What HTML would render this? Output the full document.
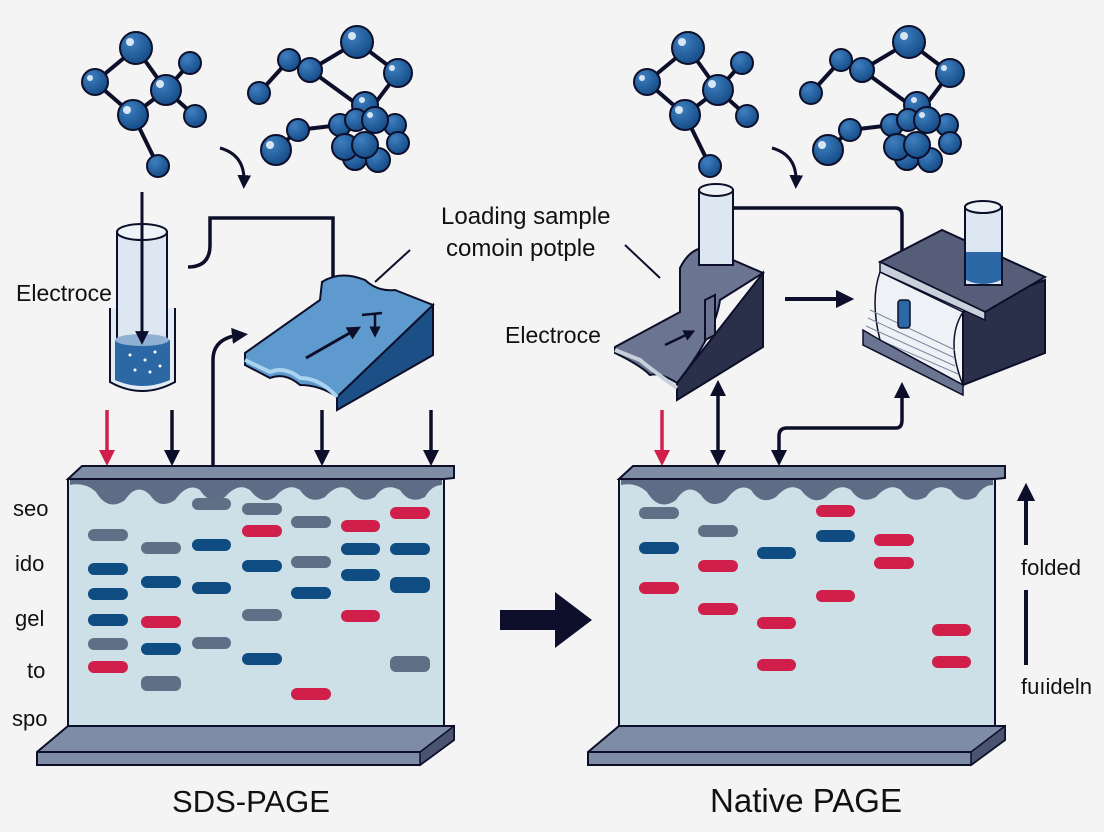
<!DOCTYPE html>
<html><head><meta charset="utf-8"><style>
html,body{margin:0;padding:0;background:#f4f4f5;}
svg{display:block}
text{font-family:"Liberation Sans",sans-serif;fill:#111;}
</style></head><body>
<svg width="1104" height="832" viewBox="0 0 1104 832" xmlns="http://www.w3.org/2000/svg">
<defs>
<radialGradient id="ball" cx="0.35" cy="0.3" r="0.75">
<stop offset="0" stop-color="#3f7fc0"/><stop offset="1" stop-color="#134a85"/></radialGradient>
<marker id="ah" viewBox="0 0 10 10" refX="5" refY="5" markerWidth="4.6" markerHeight="4.6" orient="auto-start-reverse">
<path d="M0,0 L10,5 L0,10 z" fill="#0d0f2a"/></marker>
<marker id="ahr" viewBox="0 0 10 10" refX="5" refY="5" markerWidth="4.6" markerHeight="4.6" orient="auto">
<path d="M0,0 L10,5 L0,10 z" fill="#d01f4a"/></marker>
<g id="mol">
<g stroke="#0d0f2a" stroke-width="4" fill="none">
<path d="M136,48 L95,82 L133,115 L166,90 L136,48 M166,90 L190,63 M166,90 L195,116 M133,115 L158,166"/>
<path d="M259,93 L289,60 L310,70 L357,42 L398,73 L370,110 M310,70 L365,110 M276,150 L298,130 L340,125"/>
</g>
<g fill="url(#ball)" stroke="#0d0f2a" stroke-width="2">
<circle cx="136" cy="48" r="16"/><circle cx="95" cy="82" r="13"/><circle cx="166" cy="90" r="15"/>
<circle cx="133" cy="115" r="15"/><circle cx="190" cy="63" r="11"/><circle cx="195" cy="116" r="11"/><circle cx="158" cy="166" r="11"/>
<circle cx="357" cy="42" r="16"/><circle cx="398" cy="73" r="14"/><circle cx="289" cy="60" r="11"/><circle cx="310" cy="70" r="12"/>
<circle cx="259" cy="93" r="11"/><circle cx="298" cy="130" r="11"/><circle cx="276" cy="150" r="15"/>
<circle cx="365" cy="105" r="13"/><circle cx="355" cy="158" r="12"/><circle cx="378" cy="160" r="12"/>
<circle cx="340" cy="125" r="11"/><circle cx="395" cy="125" r="11"/><circle cx="398" cy="143" r="11"/>
<circle cx="345" cy="147" r="13"/><circle cx="365" cy="145" r="13"/><circle cx="356" cy="120" r="11"/><circle cx="375" cy="120" r="13"/>
</g>
<g fill="#d7e6f5"><circle cx="130" cy="42" r="4"/><circle cx="90" cy="78" r="3"/><circle cx="160" cy="84" r="4"/><circle cx="127" cy="110" r="4"/><circle cx="352" cy="36" r="4"/><circle cx="392" cy="68" r="3"/><circle cx="270" cy="145" r="4"/><circle cx="370" cy="115" r="3"/><circle cx="362" cy="100" r="3"/></g>
</g>
</defs>

<use href="#mol"/>
<use href="#mol" x="552"/>

<path d="M220,148 Q245,155 244,182" stroke="#0d0f2a" stroke-width="3" fill="none" marker-end="url(#ah)"/>
<path d="M772,148 Q797,155 796,182" stroke="#0d0f2a" stroke-width="3" fill="none" marker-end="url(#ah)"/>

<path d="M110,308 L110,382 Q142,400 175,382 L175,308" fill="#e4ecf3" stroke="#0d0f2a" stroke-width="2"/>
<rect x="117" y="232" width="50" height="130" fill="#dce7f1" stroke="#0d0f2a" stroke-width="2"/>
<ellipse cx="142" cy="232" rx="25" ry="8" fill="#eef3f8" stroke="#0d0f2a" stroke-width="2"/>
<path d="M115,340 L115,380 Q142,392 170,380 L170,340 Z" fill="#2d68a6"/>
<ellipse cx="142" cy="340" rx="27" ry="6" fill="#8fb0d3"/>
<g fill="#fff"><circle cx="130" cy="355" r="1.5"/><circle cx="145" cy="360" r="1.5"/><circle cx="155" cy="352" r="1.5"/><circle cx="135" cy="370" r="1.5"/><circle cx="150" cy="372" r="1.5"/><circle cx="160" cy="366" r="1.5"/></g>
<line x1="142" y1="192" x2="142" y2="338" stroke="#0d0f2a" stroke-width="3" marker-end="url(#ah)"/>
<text x="16" y="301" font-size="23">Electroce</text>

<path d="M188,267 Q210,267 210,245 L210,218 L333,218 L333,313" stroke="#0d0f2a" stroke-width="3.5" fill="none"/>
<path d="M213,465 L213,360 Q213,338 240,335" stroke="#0d0f2a" stroke-width="3.5" fill="none" marker-end="url(#ah)"/>

<path d="M433,305 L433,355 L337,410 L337,397 Z" fill="#1b4f86" stroke="#0d0f2a" stroke-width="2"/>
<path d="M245,353 L320,300 L322,282 Q340,270 365,280 Q378,292 395,290 L433,305 L337,397 Q320,385 300,385 Q285,372 270,378 L245,365 Z" fill="#5f9ace" stroke="#0d0f2a" stroke-width="2"/>
<path d="M245,360 L270,372 Q285,366 300,378 Q320,378 337,397" fill="none" stroke="#a9d3ef" stroke-width="4"/>
<line x1="306" y1="358" x2="355" y2="330" stroke="#0d0f2a" stroke-width="3" marker-end="url(#ah)"/>
<path d="M362,315 L382,313 M375,314 L375,332" stroke="#0d0f2a" stroke-width="2.5" fill="none" marker-end="url(#ah)"/>
<line x1="375" y1="282" x2="410" y2="250" stroke="#0d0f2a" stroke-width="2"/>
<text x="441" y="224" font-size="24">Loading sample</text>
<text x="446" y="256" font-size="24">comoin potple</text>

<path d="M763,273 L763,347 L677,400 L677,383 Z" fill="#2a2f4a" stroke="#0d0f2a" stroke-width="2"/>
<path d="M615,347 L680,312 L680,268 Q690,248 705,248 L763,273 L720,300 Q715,335 677,383 Q660,372 650,375 Q640,365 615,353 Z" fill="#6b7591" stroke="#0d0f2a" stroke-width="2"/>
<path d="M615,350 L640,360 Q652,370 677,388" fill="none" stroke="#c8d0dc" stroke-width="4"/>
<rect x="699" y="190" width="34" height="75" fill="#dce7f1" stroke="#0d0f2a" stroke-width="2"/>
<ellipse cx="716" cy="190" rx="17" ry="6" fill="#eef3f8" stroke="#0d0f2a" stroke-width="2"/>
<path d="M705,300 L715,295 L715,335 L705,340 Z" fill="#6b7591" stroke="#0d0f2a" stroke-width="2"/>
<line x1="665" y1="345" x2="690" y2="333" stroke="#0d0f2a" stroke-width="2.5" marker-end="url(#ah)"/>
<text x="505" y="343" font-size="23">Electroce</text>
<line x1="625" y1="245" x2="660" y2="278" stroke="#0d0f2a" stroke-width="2"/>
<path d="M733,208 L895,208 Q902,208 902,215 L902,260" stroke="#0d0f2a" stroke-width="3.5" fill="none"/>
<line x1="785" y1="299" x2="845" y2="299" stroke="#0d0f2a" stroke-width="4" marker-end="url(#ah)"/>

<path d="M1045,280 L1045,353 L963,385 L963,312 Z" fill="#2a2f4a" stroke="#0d0f2a" stroke-width="2"/>
<path d="M880,262 L942,230 L1045,277 L985,312 Z" fill="#555d78" stroke="#0d0f2a" stroke-width="2"/>
<path d="M880,262 L985,312 L985,320 L880,272 Z" fill="#c8d0dc" stroke="#0d0f2a" stroke-width="1.5"/>
<path d="M880,272 L963,312 Q945,340 963,385 L880,340 Q870,300 880,272 Z" fill="#eef2f6" stroke="#0d0f2a" stroke-width="1.5"/>
<g stroke="#7c879e" stroke-width="1"><line x1="870" y1="310" x2="955" y2="350"/><line x1="868" y1="318" x2="955" y2="358"/><line x1="866" y1="326" x2="955" y2="366"/><line x1="866" y1="334" x2="958" y2="374"/></g>
<path d="M863,330 L880,340 L963,385 L963,395 L863,345 Z" fill="#6b7591" stroke="#0d0f2a" stroke-width="1.5"/>
<rect x="898" y="300" width="12" height="28" rx="3" fill="#2d68a6" stroke="#0d0f2a" stroke-width="1.5"/>
<rect x="965" y="207" width="37" height="78" fill="#dce7f1" stroke="#0d0f2a" stroke-width="2"/>
<ellipse cx="983" cy="207" rx="18" ry="6" fill="#eef3f8" stroke="#0d0f2a" stroke-width="2"/>
<path d="M966,252 L966,280 Q983,288 1001,280 L1001,252 Z" fill="#2d68a6"/>

<g stroke="#0d0f2a" stroke-width="3.5" fill="none">
<line x1="172" y1="410" x2="172" y2="458" marker-end="url(#ah)"/>
<line x1="322" y1="410" x2="322" y2="458" marker-end="url(#ah)"/>
<line x1="431" y1="410" x2="431" y2="458" marker-end="url(#ah)"/>
<line x1="718" y1="388" x2="718" y2="458" marker-start="url(#ah)" marker-end="url(#ah)"/>
<path d="M779,458 L779,436 Q779,428 787,428 L896,428 Q902,428 902,420 L902,390" marker-start="url(#ah)" marker-end="url(#ah)"/>
</g>
<line x1="107" y1="410" x2="107" y2="458" stroke="#d01f4a" stroke-width="3.5" marker-end="url(#ahr)"/>
<line x1="662" y1="410" x2="662" y2="458" stroke="#d01f4a" stroke-width="3.5" marker-end="url(#ahr)"/>

<g id="gelL">
<path d="M37,752 L68,726 L454,726 L454,740 L420,765 L37,765 Z" fill="#7f8ca5" stroke="#0d0f2a" stroke-width="2"/>
<path d="M420,752 L454,726 L454,740 L420,765 Z" fill="#4a5370" stroke="#0d0f2a" stroke-width="1.5"/>
<line x1="37" y1="752" x2="420" y2="752" stroke="#0d0f2a" stroke-width="2"/>
<rect x="68" y="479" width="376" height="247" fill="#cde0e8" stroke="#0d0f2a" stroke-width="2"/>
<path d="M70,480 L442,480 L442,485 Q432,485 425,497 Q410,505 400,490 Q385,482 375,497 Q360,505 350,490 Q338,482 325,497 Q310,505 300,490 Q288,482 275,497 Q262,506 250,490 Q238,482 225,497 Q210,506 200,490 Q188,482 175,500 Q160,510 150,495 Q137,482 125,500 Q108,512 96,492 Q85,482 70,485 Z" fill="#5f6c85"/>
<path d="M68,479 L82,466 L454,466 L454,478 L444,479 Z" fill="#7f8ca5" stroke="#0d0f2a" stroke-width="2"/>
</g>
<use href="#gelL" x="551"/>

<g fill="#5e6f86">
<rect x="88" y="529" width="40" height="12" rx="6"/><rect x="88" y="638" width="40" height="12" rx="6"/>
<rect x="141" y="542" width="40" height="12" rx="6"/><rect x="141" y="676" width="40" height="15" rx="6"/>
<rect x="192" y="498" width="39" height="12" rx="6"/><rect x="192" y="637" width="39" height="12" rx="6"/>
<rect x="242" y="503" width="40" height="12" rx="6"/><rect x="242" y="609" width="40" height="12" rx="6"/>
<rect x="291" y="516" width="40" height="12" rx="6"/><rect x="291" y="556" width="40" height="12" rx="6"/>
<rect x="390" y="656" width="40" height="16" rx="6"/>
<rect x="639" y="507" width="40" height="12" rx="6"/><rect x="698" y="525" width="40" height="12" rx="6"/>
</g>
<g fill="#0f4c81">
<rect x="88" y="563" width="40" height="12" rx="6"/><rect x="88" y="588" width="40" height="12" rx="6"/><rect x="88" y="614" width="40" height="12" rx="6"/>
<rect x="141" y="576" width="40" height="12" rx="6"/><rect x="141" y="643" width="40" height="12" rx="6"/>
<rect x="192" y="539" width="39" height="12" rx="6"/><rect x="192" y="582" width="39" height="12" rx="6"/>
<rect x="242" y="560" width="40" height="12" rx="6"/><rect x="242" y="653" width="40" height="12" rx="6"/>
<rect x="291" y="587" width="40" height="12" rx="6"/>
<rect x="341" y="543" width="39" height="12" rx="6"/><rect x="341" y="569" width="39" height="12" rx="6"/>
<rect x="390" y="543" width="40" height="12" rx="6"/><rect x="390" y="577" width="40" height="16" rx="6"/>
<rect x="639" y="542" width="40" height="12" rx="6"/><rect x="757" y="547" width="39" height="12" rx="6"/><rect x="816" y="530" width="39" height="12" rx="6"/>
</g>
<g fill="#d01f4a">
<rect x="88" y="661" width="40" height="12" rx="6"/><rect x="141" y="616" width="40" height="12" rx="6"/>
<rect x="242" y="525" width="40" height="12" rx="6"/><rect x="291" y="688" width="40" height="12" rx="6"/>
<rect x="341" y="520" width="39" height="12" rx="6"/><rect x="341" y="610" width="39" height="12" rx="6"/>
<rect x="390" y="507" width="40" height="12" rx="6"/>
<rect x="639" y="582" width="40" height="12" rx="6"/>
<rect x="698" y="560" width="40" height="12" rx="6"/><rect x="698" y="603" width="40" height="12" rx="6"/>
<rect x="757" y="617" width="39" height="12" rx="6"/><rect x="757" y="659" width="39" height="12" rx="6"/>
<rect x="816" y="505" width="39" height="12" rx="6"/><rect x="816" y="590" width="39" height="12" rx="6"/>
<rect x="874" y="534" width="40" height="12" rx="6"/><rect x="874" y="557" width="40" height="12" rx="6"/>
<rect x="932" y="624" width="39" height="12" rx="6"/><rect x="932" y="656" width="39" height="12" rx="6"/>
</g>

<g font-size="22">
<text x="13" y="516">seo</text><text x="15" y="571">ido</text><text x="15" y="626">gel</text>
<text x="27" y="678">to</text><text x="12" y="726">spo</text>
</g>
<line x1="1026" y1="545" x2="1026" y2="492" stroke="#0d0f2a" stroke-width="4" marker-end="url(#ah)"/>
<line x1="1026" y1="590" x2="1026" y2="665" stroke="#0d0f2a" stroke-width="4"/>
<text x="1021" y="575" font-size="22">folded</text>
<text x="1021" y="694" font-size="22">fuıideln</text>

<path d="M500,610 L555,610 L555,592 L592,620 L555,648 L555,630 L500,630 Z" fill="#0d0f2a"/>

<text x="251" y="812" font-size="31" text-anchor="middle">SDS-PAGE</text>
<text x="806" y="812" font-size="33" text-anchor="middle">Native PAGE</text>
</svg>
</body></html>
